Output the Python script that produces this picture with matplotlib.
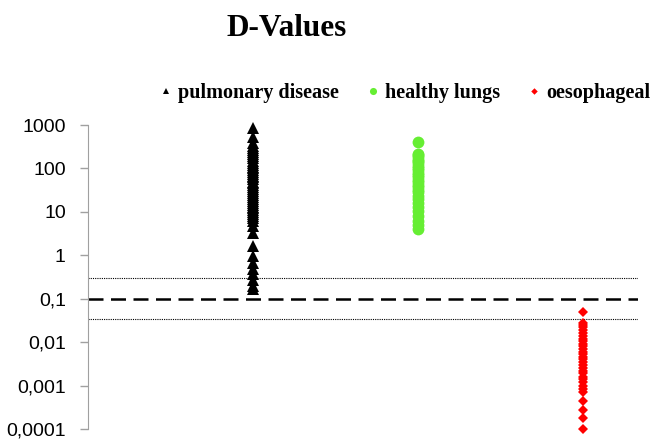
import matplotlib
matplotlib.use("Agg")
import matplotlib.pyplot as plt
from matplotlib.ticker import FixedLocator, NullLocator

title = "D-Values"
series_names = ["pulmonary disease", "healthy lungs", "oesophageal"]
series_x = [1, 2, 3]

pulmonary = [870, 540, 380, 330, 300, 270, 240, 210, 190, 170, 150, 135, 120, 110,
             100, 90, 82, 75, 68, 62, 56, 50, 45, 41, 37, 33, 30, 27, 24, 22, 20,
             18, 16, 14.5, 13, 12, 11, 10, 9, 8.2, 7.3, 6.3, 4.8, 3.2, 1.66, 0.98,
             0.68, 0.49, 0.38, 0.27, 0.2, 0.17]
healthy = [415, 220, 200, 180, 160, 145, 130, 115, 100, 90, 80, 70, 62, 55, 48,
           42, 37, 32, 28, 23.7, 20, 16, 13, 10.7, 8, 6.3, 5, 4.1]
oesophageal = [0.05, 0.028, 0.025, 0.022, 0.019, 0.016, 0.014, 0.012, 0.0105,
               0.009, 0.008, 0.007, 0.006, 0.0052, 0.0045, 0.004, 0.0035, 0.003,
               0.0026, 0.0022, 0.0019, 0.0016, 0.0014, 0.0012, 0.001, 0.00085,
               0.00072, 0.00045, 0.00028, 0.00018, 0.0001]

threshold_main = 0.1
threshold_upper = 0.3
threshold_lower = 0.034

ytick_vals = [0.0001, 0.001, 0.01, 0.1, 1, 10, 100, 1000]
ytick_labels = ["0,0001", "0,001", "0,01", "0,1", "1", "10", "100", "1000"]

fig = plt.figure(figsize=(6.56, 4.41), dpi=100)
ax = fig.add_axes([88 / 656, 1 - 429 / 441, (638 - 88) / 656, (429 - 125) / 441])

ax.axhline(threshold_upper, color="black", lw=0.8, ls=(0, (1, 1)), zorder=1)
ax.axhline(threshold_lower, color="black", lw=0.8, ls=(0, (1, 1)), zorder=1)
ax.axhline(threshold_main, color="black", lw=1.8, ls=(0, (6, 3)), zorder=1)

styles = [
    dict(marker="^", color="black", ms=8),
    dict(marker="o", color="#66ee33", ms=8.5),
    dict(marker="D", color="#ff0000", ms=5.5),
]
for name, xv, vals, st in zip(series_names, series_x, [pulmonary, healthy, oesophageal], styles):
    ax.plot([xv] * len(vals), vals, ls="none", marker=st["marker"], color=st["color"],
            markersize=st["ms"], markeredgewidth=0, label=name, clip_on=False, zorder=3)

ax.set_yscale("log")
ax.set_ylim(1e-4, 1e3)
ax.set_xlim(0, 3.33)
ax.yaxis.set_major_locator(FixedLocator(ytick_vals))
ax.yaxis.set_minor_locator(NullLocator())
ax.set_yticklabels(ytick_labels, fontsize=14, family="Liberation Sans")
ax.set_xticks([])
for s in ["top", "right", "bottom"]:
    ax.spines[s].set_visible(False)
ax.spines["left"].set_color("#a0a0a0")
ax.tick_params(axis="y", colors="#a0a0a0", labelcolor="black", length=6, width=1, pad=10)

fig.text(287 / 656, 1 - 29 / 441, title, ha="center", va="center",
         fontsize=22.5, fontweight="bold", family="Liberation Serif")

leg = fig.legend(loc="center", bbox_to_anchor=(405 / 656, 1 - 93 / 441), ncol=3,
                 frameon=False, markerscale=0.6, handlelength=0.6, handletextpad=0.3,
                 columnspacing=1.4, prop={"family": "Liberation Serif", "weight": "bold", "size": 14.5})

fig.savefig("out.png", dpi=100)
